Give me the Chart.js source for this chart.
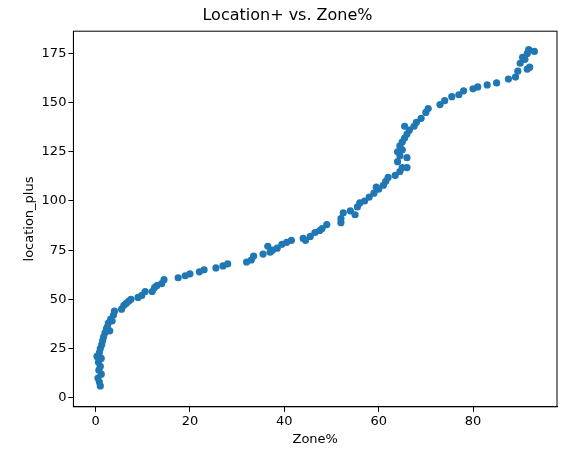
<!DOCTYPE html><html><head><script src="https://cdn.jsdelivr.net/npm/chart.js"></script>
<style>body{margin:0;background:#fff}#w{width:571px;height:455px}</style></head><body><div id="w"><canvas id="c"></canvas></div>
<script>
const zonePct=[1,0.8,0.5,1.2,0.7,1,0.6,0.3,1.2,0.8,1,1.3,1.5,1.7,2,2.3,2.5,3,2.7,3.2,3.5,3.8,4,5.5,6,6.5,7,7.5,9,9.8,10.5,12,12.5,13,14,14.5,17.5,19,20,22,23,25.5,27,28,32,33,33.5,35.5,37,36.5,37.5,38.5,39.5,40.5,41.5,44,44.5,45.5,46.5,47.5,48,49,52,52,52.5,54,55,55.5,56,57,58,59,59.5,60,61,61.5,62,63.5,64.5,65,66,64,64.5,65,64.5,65,65.5,66,66.5,67.5,68,69,70,70.5,73,74,75.5,77,78,80,81,83,85,87.5,89,89.5,90,91,91.5,92,91.5,91.8,93,90.5,64,65.5,66];
const locationPlus=[6,8,10,12,14,16,18,21,20,23,25,27,29,31,33,35,36,34,38,40,39,42,44,45,47,48,49,50,51,52,54,54,56,57,58,60,61,62,63,64,65,66,67,68,69,70,72,73,74,77,75,76,78,79,80,81,80,82,84,85,86,88,89,91,94,95,93,97,99,100,102,104,107,106,108,110,112,113,115,117,117,120,123,126,128,130,132,134,136,138,140,142,145,147,149,151,153,154,156,157,158,159,160,162,163,166,170,172,167,168,175,177,176,173,125,138,122];
const pts=zonePct.map((x,i)=>({x,y:locationPlus[i]}));
const F={family:'DejaVu Sans',size:13};
const G={drawOnChartArea:false,color:'#000',tickLength:5};
new Chart(document.getElementById('c'),{type:'scatter',data:{datasets:[{data:pts,backgroundColor:'#1f77b4',borderWidth:0,pointRadius:3.6}]},
options:{responsive:true,maintainAspectRatio:false,animation:false,layout:{padding:{left:18,right:14,top:6,bottom:4}},
plugins:{legend:{display:false},title:{display:true,text:'Location+ vs. Zone%',color:'#000',font:{family:'DejaVu Sans',size:16,weight:'normal'},padding:{top:0,bottom:6}}},
scales:{x:{min:-4.7,max:97.8,border:{color:'#000'},grid:G,ticks:{color:'#000',font:F,padding:2},afterBuildTicks:a=>{a.ticks=[0,20,40,60,80].map(v=>({value:v}))},title:{display:true,text:'Zone%',color:'#000',font:F,padding:{top:0}}},
y:{min:-4.6,max:186.3,border:{color:'#000'},grid:G,ticks:{color:'#000',font:F,padding:2},afterBuildTicks:a=>{a.ticks=[0,25,50,75,100,125,150,175].map(v=>({value:v}))},title:{display:true,text:'location_plus',color:'#000',font:F,padding:{bottom:2}}}}},
plugins:[{id:'box',afterDraw(c){const a=c.chartArea,x=c.ctx;x.save();x.strokeStyle='#000';x.lineWidth=1;x.strokeRect(a.left,a.top,a.right-a.left,a.bottom-a.top);x.restore();}}]});
</script></body></html>
